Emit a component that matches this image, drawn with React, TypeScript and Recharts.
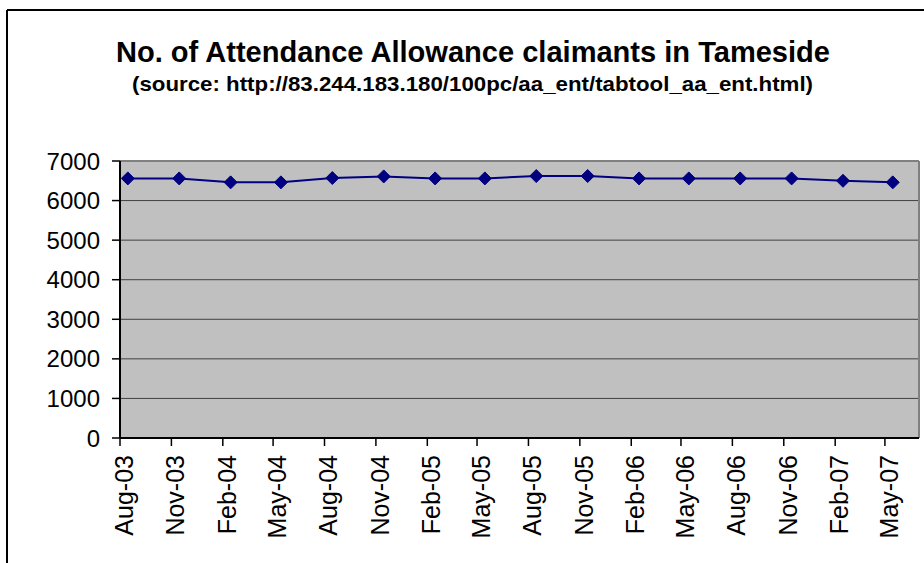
import React from 'react';
import { LineChart, Line, XAxis, YAxis, CartesianGrid, ReferenceLine } from 'recharts';

const pointDates = [
  '2003-08-15', '2003-11-15', '2004-02-15', '2004-05-15', '2004-08-15', '2004-11-15',
  '2005-02-15', '2005-05-15', '2005-08-15', '2005-11-15', '2006-02-15', '2006-05-15',
  '2006-08-15', '2006-11-15', '2007-02-15', '2007-05-15',
];
const claimants = [6560, 6560, 6460, 6460, 6570, 6610, 6560, 6560, 6620, 6620, 6560, 6560, 6560, 6560, 6500, 6460];
const tickDates = [
  '2003-08-01', '2003-11-01', '2004-02-01', '2004-05-01', '2004-08-01', '2004-11-01',
  '2005-02-01', '2005-05-01', '2005-08-01', '2005-11-01', '2006-02-01', '2006-05-01',
  '2006-08-01', '2006-11-01', '2007-02-01', '2007-05-01',
];
const tickLabels = [
  'Aug-03', 'Nov-03', 'Feb-04', 'May-04', 'Aug-04', 'Nov-04', 'Feb-05', 'May-05',
  'Aug-05', 'Nov-05', 'Feb-06', 'May-06', 'Aug-06', 'Nov-06', 'Feb-07', 'May-07',
];
const xDomainDates = ['2003-08-01', '2007-07-01'];
const yTicks = [0, 1000, 2000, 3000, 4000, 5000, 6000, 7000];

const title = 'No. of Attendance Allowance claimants in Tameside';
const subtitle = '(source: http://83.244.183.180/100pc/aa_ent/tabtool_aa_ent.html)';

const FONT = '"Liberation Sans", Arial, sans-serif';

const data = pointDates.map((d, i) => ({ t: Date.parse(d), v: claimants[i] }));
const xTicks = tickDates.map((d) => Date.parse(d));
const xDomain = xDomainDates.map((d) => Date.parse(d));
const labelOf = (v: number) => {
  const i = xTicks.indexOf(v);
  return i >= 0 ? tickLabels[i] : '';
};

const XTick = (props: any) => {
  const { x, y, payload } = props;
  return (
    <g transform={`translate(${x},${y})`}>
      <text
        x={0}
        y={0}
        dy={13}
        transform="rotate(-90)"
        textAnchor="end"
        fontSize={25}
        fontFamily={FONT}
        fill="#000"
      >
        {labelOf(payload.value)}
      </text>
    </g>
  );
};

const Diamond = (props: any) => {
  const { cx, cy } = props;
  if (cx == null || cy == null) return null;
  const r = 6.5;
  return (
    <path
      d={`M${cx},${cy - r}L${cx + r},${cy}L${cx},${cy + r}L${cx - r},${cy}Z`}
      fill="#000080"
      stroke="#000080"
      strokeWidth={1}
    />
  );
};

export default function App() {
  return (
    <div style={{ position: 'absolute', left: 0, top: 0, width: 924, height: 563, background: '#fff', overflow: 'hidden' }}>
      <svg width={924} height={563} style={{ position: 'absolute', left: 0, top: 0 }}>
        <line x1={7} y1={10} x2={924} y2={10} stroke="#000" strokeWidth={2} />
        <line x1={7} y1={10} x2={7} y2={563} stroke="#000" strokeWidth={2} />
        <text x={116} y={61.7} fontSize={29} fontWeight="bold" fontFamily={FONT} fill="#000" textLength={714} lengthAdjust="spacingAndGlyphs">
          {title}
        </text>
        <text x={132} y={91} fontSize={21} fontWeight="bold" fontFamily={FONT} fill="#000" textLength={681} lengthAdjust="spacingAndGlyphs">
          {subtitle}
        </text>
      </svg>
      <div style={{ position: 'absolute', left: 0, top: 0 }}>
        <LineChart width={924} height={563} data={data} margin={{ top: 161, right: 5, bottom: 0, left: 0 }}>
          <CartesianGrid vertical={false} fill="#C0C0C0" stroke="#404040" strokeWidth={1} horizontalValues={yTicks} />
          <XAxis
            dataKey="t"
            type="number"
            domain={xDomain}
            ticks={xTicks}
            interval={0}
            height={125}
            tick={<XTick />}
            tickSize={8}
            tickMargin={9}
            axisLine={{ stroke: '#000', strokeWidth: 2 }}
            tickLine={{ stroke: '#000', strokeWidth: 1.5 }}
            allowDataOverflow
          />
          <YAxis
            type="number"
            domain={[0, 7000]}
            ticks={yTicks}
            interval={0}
            width={120}
            tickSize={8}
            tickMargin={12}
            tick={{ fill: '#000', fontSize: 24, fontFamily: FONT }}
            axisLine={{ stroke: '#000', strokeWidth: 2 }}
            tickLine={{ stroke: '#000', strokeWidth: 1.5 }}
            allowDataOverflow
          />
          <ReferenceLine y={7000} stroke="#808080" strokeWidth={2} />
          <ReferenceLine x={xDomain[1]} stroke="#808080" strokeWidth={2} />
          <Line
            type="linear"
            dataKey="v"
            stroke="#000080"
            strokeWidth={2}
            dot={<Diamond />}
            activeDot={false}
            isAnimationActive={false}
          />
        </LineChart>
      </div>
    </div>
  );
}
